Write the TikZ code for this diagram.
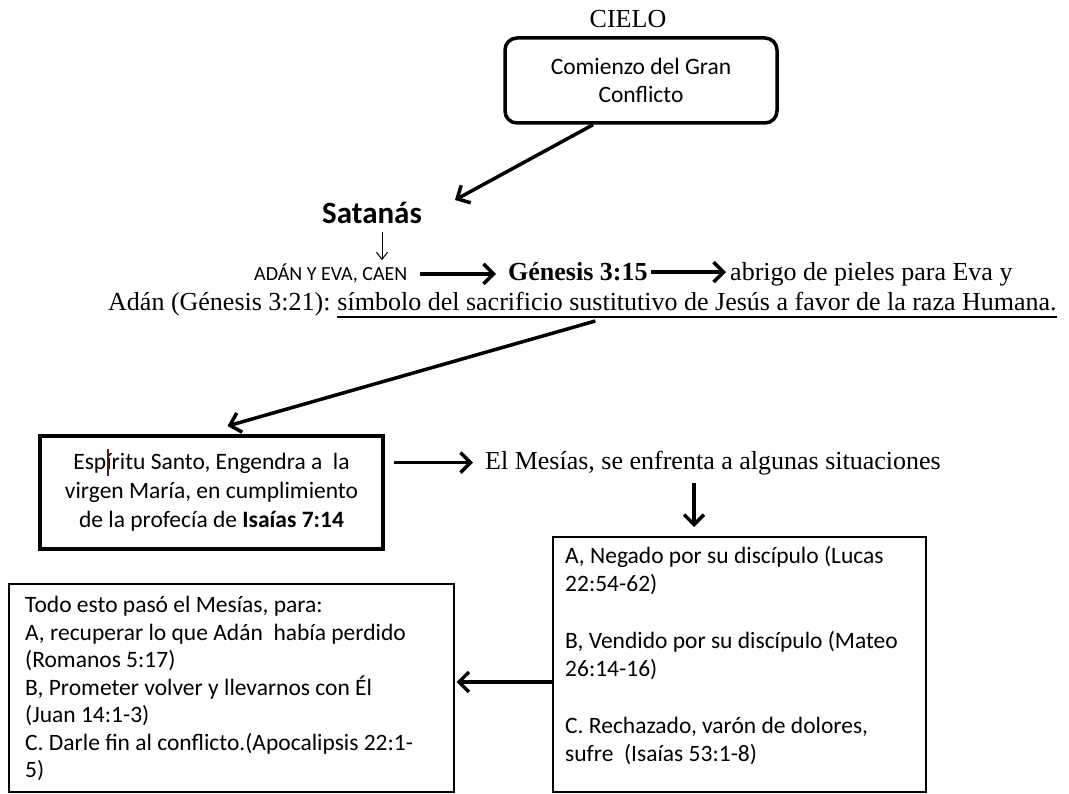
\documentclass[tikz,border=0pt]{standalone}
\usepackage{fontspec}
\setmainfont{Liberation Serif}
\newfontfamily\calibri{Carlito}
\usetikzlibrary{arrows.meta,positioning,calc}
\definecolor{cursorred}{RGB}{90,25,25}

\begin{document}
\begin{tikzpicture}[x=1pt,y=-1pt]
    \tikzset{serif/.style={inner sep=0pt, font=\fontsize{26}{30}\selectfont},
      sans/.style={inner sep=0pt, font=\calibri\fontsize{23.5}{27.5}\selectfont},
      boxline/.style={draw, line width=1.5pt, anchor=north west, inner sep=0pt},
      fat/.style={line width=3.5pt, -{Straight Barb[length=10pt,width=20pt]}},
      slim/.style={line width=1pt, -{Straight Barb[length=7pt,width=11pt]}}}
    \useasboundingbox (0,0) rectangle (1069,794);
    \node[serif, anchor=base] (cielo) at (628,28) {CIELO};
    \node[sans, draw, rounded corners=12pt, line width=3.5pt, minimum width=272pt,
      minimum height=85pt, align=center, font=\calibri\fontsize{23.5}{28}\selectfont]
      (comienzo) at (641,80.5) {Comienzo del Gran\\Conflicto};
    \node[anchor=base, inner sep=0pt, font=\calibri\bfseries\fontsize{31}{36}\selectfont]
      (satanas) at (372,224) {Satanás};
    \coordinate (tipsat) at (455,200);
    \coordinate (thinx) at (382,0);
    \node[anchor=base west, inner sep=0pt, font=\calibri\fontsize{20}{24}\selectfont]
      (adan) at (254,281) {ADÁN Y EVA, CAEN};
    \node[anchor=base west, inner sep=0pt, font=\fontsize{26}{30}\selectfont\bfseries]
      (genesis) at (508,281) {Génesis 3:15};
    \node[serif, anchor=base west] (abrigo) at (730,281) {abrigo de pieles para Eva y};
    \node[serif, anchor=base west] (adandos) at (108,311) {Adán (Génesis 3:21):};
    \node[serif, anchor=base west] (simbolo) at ([xshift=6.5pt]adandos.base east)
      {símbolo del sacrificio sustitutivo de Jesús a favor de la raza Humana.};
    \draw[line width=1.4pt] ([yshift=-6pt]simbolo.base west) -- ([yshift=-6pt]simbolo.base east);

    \node[sans, draw, line width=4pt, minimum width=343pt, minimum height=113pt, align=center,
      font=\calibri\fontsize{23.5}{29}\selectfont] (espiritu) at (211.5,492.5)
      {Espíritu Santo, Engendra a\ \ la\\virgen María, en cumplimiento\\de la profecía de \textbf{Isaías 7:14}};
    \draw[line width=2.5pt, cursorred] (108,449) -- (108,476);
    \node[serif, anchor=base west] (mesias) at (485,469) {El Mesías, se enfrenta a algunas situaciones};
    \coordinate (downx) at (694,0);

    \node[boxline, minimum width=373pt, minimum height=255pt] (vendido) at (552,536) {};
    \node[sans, anchor=north west, align=left, font=\calibri\fontsize{23.5}{28.3}\selectfont]
      (vendidotxt) at (565,546) {A, Negado por su discípulo (Lucas\\22:54-62)\\[28.3pt]
      B, Vendido por su discípulo (Mateo\\26:14-16)\\[28.3pt]
      C. Rechazado, varón de dolores,\\sufre\ \ (Isaías 53:1-8)};
    \node[boxline, minimum width=445pt, minimum height=208pt] (fin) at (8,583) {};
    \node[sans, anchor=north west, align=left] (fintxt) at (25,596)
      {Todo esto pasó el Mesías, para:\\A, recuperar lo que Adán\ \ había perdido\\(Romanos 5:17)\\
      B, Prometer volver y llevarnos con Él\\(Juan 14:1-3)\\
      C. Darle fin al conflicto.(Apocalipsis 22:1-\\5)};
    \coordinate (arrowy) at (0,682);

    \draw[fat] ([xshift=-48pt]comienzo.south) -- (tipsat);
    \draw[slim, shorten <=8pt, shorten >=4pt] (satanas.south -| thinx) -- (adan.north -| thinx);
    \draw[fat, shorten <=12pt, shorten >=12pt] (adan.east) -- (adan.east -| genesis.west);
    \draw[fat, shorten <=3pt, shorten >=4pt] (genesis.east) -- (genesis.east -| abrigo.west);
    \draw[fat] ([xshift=258pt,yshift=-10pt]simbolo.base west) -- ([xshift=16pt,yshift=8pt]espiritu.north);
    \draw[fat, shorten <=9pt, shorten >=12pt] (espiritu.east |- mesias.west) -- (mesias.west);
    \draw[fat, shorten <=8pt, shorten >=9pt] (mesias.south -| downx) -- (vendido.north -| downx);
    \draw[fat, shorten >=2pt] (vendido.west |- arrowy) -- (fin.east |- arrowy);
\end{tikzpicture}
\end{document}
